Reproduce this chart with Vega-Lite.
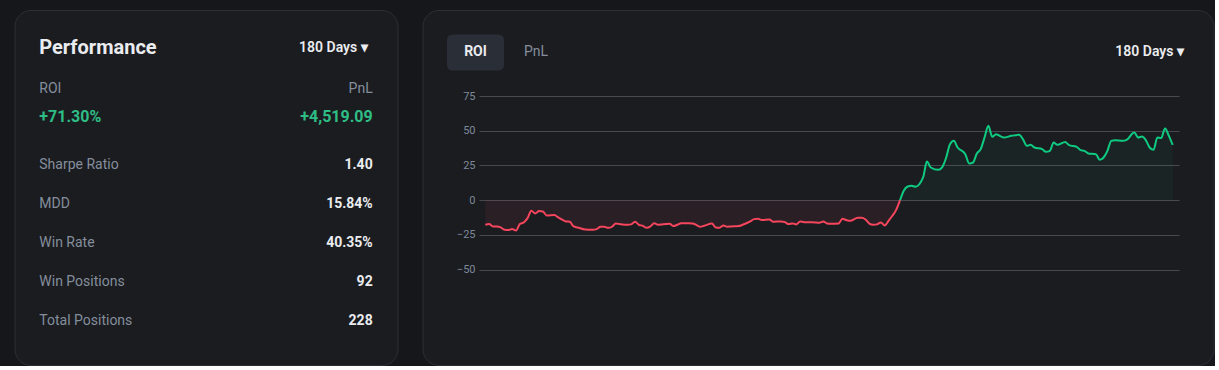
{
  "$schema": "https://vega.github.io/schema/vega-lite/v6.json",
  "background": "#16171a",
  "padding": {"left": 13.5, "top": 9, "right": 0, "bottom": 0},
  "bounds": "flush",
  "spacing": 25,
  "config": {
    "font": "Roboto",
    "view": {"fill": "#1b1c20", "stroke": "#2c2f35", "strokeWidth": 1, "cornerRadius": 16},
    "text": {"baseline": "middle"}
  },
  "datasets": {
    "panel": [
      {"slot": "header", "side": "left", "text": "Performance", "kind": "title"},
      {"slot": "header", "side": "right", "text": "180 Days ▾", "kind": "period"},
      {"slot": "headline label", "side": "left", "text": "ROI", "kind": "headline label"},
      {"slot": "headline label", "side": "right", "text": "PnL", "kind": "headline label"},
      {"slot": "headline value", "side": "left", "text": "+71.30%", "kind": "headline value"},
      {"slot": "headline value", "side": "right", "text": "+4,519.09", "kind": "headline value"},
      {"slot": "Sharpe Ratio", "side": "left", "text": "Sharpe Ratio", "kind": "stat label"},
      {"slot": "Sharpe Ratio", "side": "right", "text": "1.40", "kind": "stat value"},
      {"slot": "MDD", "side": "left", "text": "MDD", "kind": "stat label"},
      {"slot": "MDD", "side": "right", "text": "15.84%", "kind": "stat value"},
      {"slot": "Win Rate", "side": "left", "text": "Win Rate", "kind": "stat label"},
      {"slot": "Win Rate", "side": "right", "text": "40.35%", "kind": "stat value"},
      {"slot": "Win Positions", "side": "left", "text": "Win Positions", "kind": "stat label"},
      {"slot": "Win Positions", "side": "right", "text": "92", "kind": "stat value"},
      {"slot": "Total Positions", "side": "left", "text": "Total Positions", "kind": "stat label"},
      {"slot": "Total Positions", "side": "right", "text": "228", "kind": "stat value"}
    ],
    "tabs": [
      {"tab": "ROI", "state": "active", "bar": "chart tabs"},
      {"tab": "PnL", "state": "inactive", "bar": "chart tabs"}
    ],
    "roi": [
      {"day":0,"roi":-17.8},{"day":1,"roi":-17.3},{"day":2,"roi":-19.0},{"day":3,"roi":-19.0},{"day":4,"roi":-19.7},{"day":5,"roi":-21.4},{"day":6,"roi":-21.6},{"day":7,"roi":-20.9},{"day":8,"roi":-21.9},{"day":9,"roi":-17.3},{"day":10,"roi":-16.1},{"day":11,"roi":-13.0},{"day":12,"roi":-7.7},{"day":13,"roi":-9.6},{"day":14,"roi":-7.9},{"day":15,"roi":-8.2},{"day":16,"roi":-11.1},{"day":18,"roi":-10.8},{"day":19,"roi":-12.5},{"day":20,"roi":-14.0},{"day":21,"roi":-15.4},{"day":22,"roi":-15.6},{"day":23,"roi":-19.0},{"day":24,"roi":-19.7},{"day":26,"roi":-21.2},{"day":28,"roi":-21.4},{"day":29,"roi":-20.9},{"day":30,"roi":-19.2},{"day":31,"roi":-19.2},{"day":32,"roi":-20.0},{"day":33,"roi":-19.2},{"day":34,"roi":-16.9},{"day":35,"roi":-17.3},{"day":37,"roi":-17.8},{"day":38,"roi":-17.5},{"day":39,"roi":-15.6},{"day":40,"roi":-17.8},{"day":41,"roi":-18.5},{"day":42,"roi":-20.0},{"day":43,"roi":-19.0},{"day":44,"roi":-16.6},{"day":45,"roi":-17.8},{"day":46,"roi":-17.5},{"day":48,"roi":-17.1},{"day":49,"roi":-18.7},{"day":50,"roi":-17.8},{"day":51,"roi":-16.6},{"day":53,"roi":-16.6},{"day":54,"roi":-16.8},{"day":55,"roi":-18.0},{"day":56,"roi":-19.2},{"day":57,"roi":-18.5},{"day":59,"roi":-16.9},{"day":60,"roi":-19.7},{"day":61,"roi":-19.9},{"day":62,"roi":-18.3},{"day":63,"roi":-19.2},{"day":64,"roi":-19.0},{"day":66,"roi":-18.7},{"day":67,"roi":-17.8},{"day":69,"roi":-15.4},{"day":70,"roi":-13.7},{"day":71,"roi":-13.5},{"day":72,"roi":-14.4},{"day":74,"roi":-14.0},{"day":75,"roi":-15.6},{"day":77,"roi":-15.4},{"day":78,"roi":-15.9},{"day":79,"roi":-17.3},{"day":80,"roi":-16.8},{"day":81,"roi":-17.5},{"day":82,"roi":-15.4},{"day":83,"roi":-15.9},{"day":85,"roi":-15.9},{"day":87,"roi":-16.3},{"day":88,"roi":-15.4},{"day":89,"roi":-16.8},{"day":90,"roi":-17.1},{"day":92,"roi":-16.8},{"day":93,"roi":-13.5},{"day":94,"roi":-14.4},{"day":95,"roi":-14.9},{"day":97,"roi":-12.8},{"day":98,"roi":-12.8},{"day":99,"roi":-14.0},{"day":100,"roi":-16.9},{"day":101,"roi":-17.8},{"day":102,"roi":-17.5},{"day":103,"roi":-16.1},{"day":104,"roi":-18.3},{"day":105,"roi":-14.9},{"day":106,"roi":-11.3},{"day":107,"roi":-7.0},{"day":108,"roi":0.0},{"day":109,"roi":7.0},{"day":110,"roi":9.8},{"day":111,"roi":10.3},{"day":112,"roi":9.6},{"day":114,"roi":16.3},{"day":115,"roi":27.8},{"day":116,"roi":23.5},{"day":118,"roi":21.8},{"day":119,"roi":23.8},{"day":120,"roi":30.5},{"day":121,"roi":40.3},{"day":122,"roi":42.7},{"day":123,"roi":37.9},{"day":125,"roi":33.1},{"day":126,"roi":26.4},{"day":127,"roi":27.1},{"day":128,"roi":33.6},{"day":129,"roi":36.7},{"day":130,"roi":45.1},{"day":131,"roi":53.5},{"day":132,"roi":45.6},{"day":133,"roi":47.5},{"day":135,"roi":45.1},{"day":137,"roi":46.3},{"day":139,"roi":47.0},{"day":140,"roi":43.9},{"day":141,"roi":39.1},{"day":142,"roi":39.8},{"day":143,"roi":37.9},{"day":145,"roi":36.7},{"day":146,"roi":34.8},{"day":147,"roi":35.5},{"day":148,"roi":41.5},{"day":149,"roi":39.8},{"day":151,"roi":41.8},{"day":152,"roi":39.6},{"day":154,"roi":38.4},{"day":155,"roi":36.0},{"day":156,"roi":35.5},{"day":157,"roi":33.6},{"day":159,"roi":33.1},{"day":160,"roi":29.0},{"day":161,"roi":30.7},{"day":162,"roi":35.5},{"day":163,"roi":42.7},{"day":164,"roi":43.2},{"day":166,"roi":42.7},{"day":167,"roi":43.4},{"day":169,"roi":48.7},{"day":170,"roi":45.1},{"day":171,"roi":45.8},{"day":172,"roi":43.2},{"day":173,"roi":37.9},{"day":174,"roi":36.2},{"day":175,"roi":45.1},{"day":176,"roi":44.7},{"day":177,"roi":51.6},{"day":178,"roi":46.3},{"day":179,"roi":39.8}
    ]
  },
  "hconcat": [
    {
      "width": 383,
      "height": 355,
      "data": {"name": "panel"},
      "encoding": {
        "x": {"field": "side", "type": "nominal", "scale": {"type": "point", "padding": 0, "domain": ["left", "right"], "range": [24.8, 358.2]}, "axis": null},
        "y": {"field": "slot", "type": "nominal", "scale": {"type": "point", "padding": 0, "domain": ["header", "headline label", "headline value", "Sharpe Ratio", "MDD", "Win Rate", "Win Positions", "Total Positions"], "range": [37.5, 310.5]}, "axis": null},
        "text": {"field": "text"}
      },
      "layer": [
        {"transform": [{"filter": "datum.kind == 'title'"}], "mark": {"type": "text", "align": "left", "fontSize": 20, "fontWeight": 700, "color": "#eaecef"}},
        {"transform": [{"filter": "datum.kind == 'period'"}], "mark": {"type": "text", "align": "right", "fontSize": 14, "fontWeight": 600, "color": "#eaecef", "dx": -5}},
        {"transform": [{"filter": "datum.kind == 'headline label' && datum.side == 'left'"}], "mark": {"type": "text", "align": "left", "fontSize": 14, "color": "#848e9c", "dy": 2.5}},
        {"transform": [{"filter": "datum.kind == 'headline label' && datum.side == 'right'"}], "mark": {"type": "text", "align": "right", "fontSize": 14, "color": "#848e9c", "dy": 2.5}},
        {"transform": [{"filter": "datum.kind == 'headline value' && datum.side == 'left'"}], "mark": {"type": "text", "align": "left", "fontSize": 16, "fontWeight": 700, "color": "#2ebd85", "dy": -9}},
        {"transform": [{"filter": "datum.kind == 'headline value' && datum.side == 'right'"}], "mark": {"type": "text", "align": "right", "fontSize": 16, "fontWeight": 700, "color": "#2ebd85", "dy": -9}},
        {"transform": [{"filter": "datum.kind == 'stat label'"}], "mark": {"type": "text", "align": "left", "fontSize": 14, "color": "#848e9c"}},
        {"transform": [{"filter": "datum.kind == 'stat value'"}], "mark": {"type": "text", "align": "right", "fontSize": 14, "fontWeight": 700, "color": "#eaecef"}}
      ]
    },
    {
      "width": 791,
      "height": 355,
      "title": {"text": "180 Days ▾", "orient": "top", "anchor": "end", "frame": "group", "offset": -56, "dx": -29.5, "baseline": "middle", "fontSize": 14, "fontWeight": 600, "color": "#eaecef", "font": "Roboto"},
      "layer": [
        {
          "data": {"name": "roi"},
          "encoding": {
            "x": {"field": "day", "type": "quantitative", "scale": {"domain": [-1.64, 180.64], "range": [56.5, 756.5], "nice": false, "zero": false}, "axis": null},
            "y": {"field": "roi", "type": "quantitative", "scale": {"domain": [-50, 75], "range": [259.5, 86], "nice": false, "zero": false},
              "axis": {"values": [-50, -25, 0, 25, 50, 75], "grid": true, "gridColor": "#464950", "gridWidth": 1, "domain": false, "ticks": false, "tickSize": 0, "labelPadding": 4, "offset": -56.5, "labelColor": "#7d8899", "labelFontSize": 11, "labelFont": "Roboto", "title": null}}
          },
          "layer": [
            {"transform": [{"filter": "datum.roi <= 0"}], "mark": {"type": "area", "color": "#f6465d", "opacity": 0.07, "interpolate": "monotone"}, "encoding": {"y2": {"datum": 0}}},
            {"transform": [{"filter": "datum.roi >= 0"}], "mark": {"type": "area", "color": "#0ecb81", "opacity": 0.05, "interpolate": "monotone"}, "encoding": {"y2": {"datum": 0}}},
            {"transform": [{"filter": "datum.roi <= 0"}], "mark": {"type": "line", "color": "#f6465d", "strokeWidth": 2, "interpolate": "monotone"}, "encoding": {}},
            {"transform": [{"filter": "datum.roi >= 0"}], "mark": {"type": "line", "color": "#0ecb81", "strokeWidth": 2, "interpolate": "monotone"}, "encoding": {}}
          ]
        },
        {
          "data": {"name": "tabs"},
          "encoding": {
            "x": {"field": "tab", "type": "nominal", "scale": {"type": "point", "padding": 0, "domain": ["ROI", "PnL"], "range": [53, 113.5]}, "axis": null},
            "y": {"field": "bar", "type": "nominal", "scale": {"type": "point", "padding": 0, "range": [42.5, 42.5]}, "axis": null},
            "text": {"field": "tab"}
          },
          "layer": [
            {"transform": [{"filter": "datum.state == 'active'"}], "mark": {"type": "point", "shape": "M -0.79,-0.632 L 0.79,-0.632 Q 1,-0.632 1,-0.421 L 1,0.421 Q 1,0.632 0.79,0.632 L -0.79,0.632 Q -1,0.632 -1,0.421 L -1,-0.421 Q -1,-0.632 -0.79,-0.632 Z", "size": 3249, "filled": true, "color": "#2a2f37", "opacity": 1, "strokeWidth": 0}},
            {"transform": [{"filter": "datum.state == 'active'"}], "mark": {"type": "text", "align": "center", "fontSize": 14, "fontWeight": 700, "color": "#eaecef", "dy": -0.5}},
            {"transform": [{"filter": "datum.state == 'inactive'"}], "mark": {"type": "text", "align": "center", "fontSize": 14, "color": "#848e9c", "dy": -0.5}}
          ]
        }
      ],
      "resolve": {"scale": {"x": "independent", "y": "independent"}}
    }
  ]
}
